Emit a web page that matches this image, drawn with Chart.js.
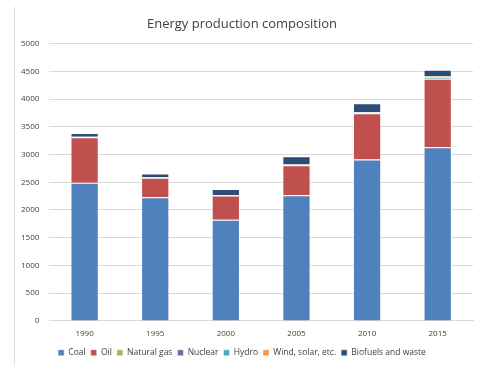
<!DOCTYPE html>
<html>
<head>
<meta charset="utf-8">
<script src="https://cdn.jsdelivr.net/npm/chart.js@4"></script>
<style>
  html, body { margin: 0; padding: 0; background: #fff; }
  #frame { position: absolute; left: 0; top: 0; width: 477px; height: 365px; }
  #edge { position: absolute; left: 14px; top: 7px; width: 1px; height: 358px; background: #d9d9d9; }
</style>
</head>
<body>
<div id="frame"><canvas id="myChart" width="477" height="365"></canvas></div>
<div id="edge"></div>
<script>
const years = ["1990", "1995", "2000", "2005", "2010", "2015"];
const coal = [2490, 2230, 1825, 2265, 2910, 3130];
const oil = [820, 350, 435, 540, 835, 1235];
const naturalGas = [0, 0, 0, 0, 0, 0];
const nuclear = [0, 0, 0, 0, 0, 0];
const hydro = [10, 10, 10, 15, 15, 35];
const wind = [0, 0, 0, 0, 5, 10];
const biofuels = [70, 70, 110, 150, 160, 120];
const yTicks = [0, 500, 1000, 1500, 2000, 2500, 3000, 3500, 4000, 4500, 5000];

const ctx = document.getElementById('myChart');
const font = "'Open Sans', 'Liberation Sans', sans-serif";

const serie = (label, data, color) => ({
  label: label,
  data: data,
  backgroundColor: color,
  borderColor: 'rgba(255,255,255,0.45)',
  borderWidth: 1,
  categoryPercentage: 1,
  barPercentage: 0.4
});

const grafico = new Chart(ctx, {
  type: 'bar',
  data: {
    labels: years,
    datasets: [
      serie('Coal', coal, '#4f81bd'),
      serie('Oil', oil, '#c0504d'),
      serie('Natural gas', naturalGas, '#9bbb59'),
      serie('Nuclear', nuclear, '#8064a2'),
      serie('Hydro', hydro, '#4bacc6'),
      serie('Wind, solar, etc.', wind, '#f79646'),
      serie('Biofuels and waste', biofuels, '#2c4d75')
    ]
  },
  options: {
    responsive: false,
    animation: false,
    layout: { padding: { left: 11, right: 4, top: 6, bottom: -2 } },
    plugins: {
      title: {
        display: true,
        text: 'Energy production composition',
        color: '#404040',
        font: { family: font, size: 13, weight: 'normal' },
        padding: { top: 10, bottom: 12 }
      },
      legend: {
        position: 'bottom',
        labels: {
          boxWidth: 6,
          boxHeight: 6,
          padding: 5,
          color: '#404040',
          font: { family: font, size: 8.5 }
        }
      },
      tooltip: { enabled: false }
    },
    scales: {
      x: {
        stacked: true,
        grid: { display: false },
        border: { color: '#d9d9d9' },
        ticks: { color: '#404040', font: { family: font, size: 8 }, padding: 0 },
        afterFit: (axis) => { axis.height += 5; }
      },
      y: {
        stacked: true,
        min: 0,
        max: 5000,
        afterBuildTicks: (axis) => { axis.ticks = yTicks.map(v => ({ value: v })); },
        grid: { color: '#d9d9d9', drawTicks: false },
        border: { display: false },
        ticks: {
          color: '#404040',
          font: { family: font, size: 8 },
          padding: 10,
          callback: (v) => String(v)
        }
      }
    }
  }
});
</script>
</body>
</html>
